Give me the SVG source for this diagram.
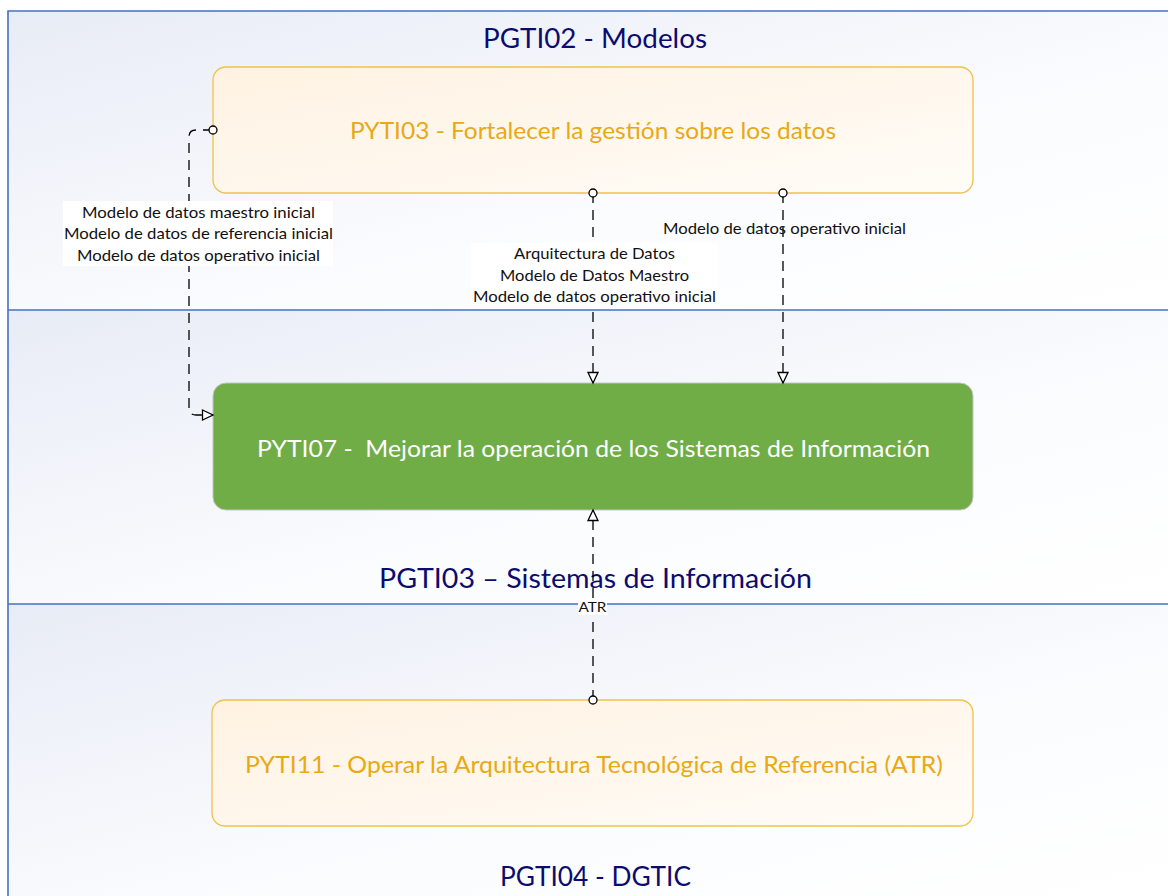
<svg xmlns="http://www.w3.org/2000/svg" width="1168" height="896" viewBox="0 0 1168 896">
<style>
.lane{stroke:none}
.laneline{stroke:#4472c4;stroke-width:1.6;fill:none}
.title{font-family:Lato,"Liberation Sans",sans-serif;font-size:27px;fill:#0c0c6e;text-anchor:middle}
.ntext{font-family:Lato,"Liberation Sans",sans-serif;font-size:23px;text-anchor:middle}
.orange rect{fill:url(#gOrange);stroke:#eec24c;stroke-width:1.3}
.orange text{fill:#e8a915}
.green rect{fill:#70ad47;stroke:#c4c4c4;stroke-width:1}
.green text{fill:#ffffff}
.conn{fill:none;stroke:#000;stroke-width:1.3;stroke-dasharray:10 7}
.lbl{font-family:Lato,"Liberation Sans",sans-serif;font-size:15px;fill:#111;text-anchor:middle}
.lblbg{fill:#ffffff;stroke:none}
</style>
<defs>
<linearGradient id="gLane" x1="0" y1="0" x2="1" y2="1">
<stop offset="0" stop-color="#e8ecf6"/>
<stop offset="0.6" stop-color="#fbfcfe"/>
<stop offset="1" stop-color="#ffffff"/>
</linearGradient>
<linearGradient id="gOrange" x1="0" y1="0" x2="1" y2="1">
<stop offset="0" stop-color="#fff2e2"/>
<stop offset="1" stop-color="#fffcf7"/>
</linearGradient>
<marker id="mCircle" viewBox="-5 -5 10 10" refX="0" refY="0" markerWidth="10" markerHeight="10" markerUnits="userSpaceOnUse" overflow="visible">
<circle cx="0" cy="0" r="4" fill="#fff" stroke="#000" stroke-width="1.3" stroke-dasharray="none"/>
</marker>
<marker id="mTri" viewBox="0 0 11 11" refX="11" refY="5.5" markerWidth="11" markerHeight="11" markerUnits="userSpaceOnUse" orient="auto" overflow="visible">
<path d="M0.5,0.5 L11,5.5 L0.5,10.5 Z" fill="#fff" stroke="#000" stroke-width="1.3" stroke-dasharray="none"/>
</marker>
</defs>
<rect x="0" y="0" width="1168" height="896" fill="#ffffff"/>
<g id="lane-pgti02">
<rect class="lane" x="8" y="11" width="1160" height="299" fill="url(#gLane)"/>
<text class="title" x="595" y="48" textLength="224" lengthAdjust="spacingAndGlyphs">PGTI02 - Modelos</text>
</g>
<g id="lane-pgti03">
<rect class="lane" x="8" y="310" width="1160" height="294" fill="url(#gLane)"/>
<text class="title" x="595.5" y="588" textLength="433" lengthAdjust="spacingAndGlyphs">PGTI03 – Sistemas de Información</text>
</g>
<g id="lane-pgti04">
<rect class="lane" x="8" y="604" width="1160" height="292" fill="url(#gLane)"/>
<text class="title" x="595.5" y="886" textLength="191" lengthAdjust="spacingAndGlyphs">PGTI04 - DGTIC</text>
</g>
<g id="lane-lines">
<path class="laneline" d="M8,896 V11 H1168 M8,310 H1168 M8,604 H1168"/>
</g>
<g id="node-pyti03" class="orange">
<rect x="213" y="67" width="760" height="126" rx="13"/>
<text class="ntext" x="593" y="139" textLength="486" lengthAdjust="spacingAndGlyphs">PYTI03 - Fortalecer la gestión sobre los datos</text>
</g>
<g id="node-pyti07" class="green">
<rect x="213" y="383" width="760" height="127" rx="13"/>
<text class="ntext" x="593.5" y="457" textLength="673" lengthAdjust="spacingAndGlyphs" xml:space="preserve">PYTI07 -  Mejorar la operación de los Sistemas de Información</text>
</g>
<g id="node-pyti11" class="orange">
<rect x="212" y="700" width="761" height="126" rx="13"/>
<text class="ntext" x="594" y="773" textLength="698" lengthAdjust="spacingAndGlyphs">PYTI11 - Operar la Arquitectura Tecnológica de Referencia (ATR)</text>
</g>
<g id="connectors">
<path class="conn" d="M213,130 H196 Q189,130 189,137 V408 Q189,415 196,415 H213" marker-start="url(#mCircle)" marker-end="url(#mTri)"/>
<path class="conn" d="M593,193 V383" marker-start="url(#mCircle)" marker-end="url(#mTri)"/>
<path class="conn" d="M783,193 V383" marker-start="url(#mCircle)" marker-end="url(#mTri)"/>
<path class="conn" d="M593,700 V510" marker-start="url(#mCircle)" marker-end="url(#mTri)"/>
<g id="label-left">
<rect class="lblbg" x="63" y="201" width="270" height="65"/>
<text class="lbl" x="198.5" y="218" textLength="233" lengthAdjust="spacingAndGlyphs">Modelo de datos maestro inicial</text>
<text class="lbl" x="198.5" y="239" textLength="269" lengthAdjust="spacingAndGlyphs">Modelo de datos de referencia inicial</text>
<text class="lbl" x="198.5" y="261" textLength="243" lengthAdjust="spacingAndGlyphs">Modelo de datos operativo inicial</text>
</g>
<g id="label-middle">
<rect class="lblbg" x="471" y="243" width="247" height="63"/>
<text class="lbl" x="594.5" y="259" textLength="161" lengthAdjust="spacingAndGlyphs">Arquitectura de Datos</text>
<text class="lbl" x="594.5" y="281" textLength="189" lengthAdjust="spacingAndGlyphs">Modelo de Datos Maestro</text>
<text class="lbl" x="594.5" y="302" textLength="243" lengthAdjust="spacingAndGlyphs">Modelo de datos operativo inicial</text>
</g>
<g id="label-right">
<text class="lbl" x="784.5" y="234" textLength="243" lengthAdjust="spacingAndGlyphs">Modelo de datos operativo inicial</text>
</g>
<g id="label-atr">
<rect class="lblbg" x="578" y="599" width="29" height="16"/>
<text class="lbl" x="592.5" y="612" style="font-size:13px" textLength="28" lengthAdjust="spacingAndGlyphs">ATR</text>
</g>
</g>
</svg>
